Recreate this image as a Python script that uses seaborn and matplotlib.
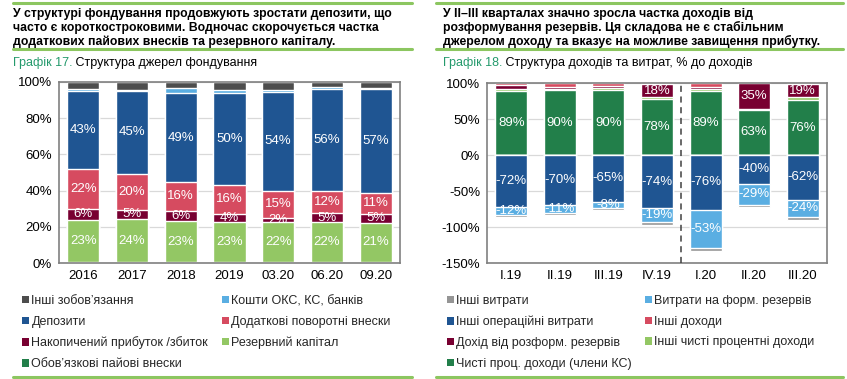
import numpy as np
import matplotlib
matplotlib.use("Agg")
import matplotlib.pyplot as plt
from matplotlib.patches import Patch
from matplotlib.lines import Line2D
import seaborn as sns

# ---------------- Графік 17: структура джерел фондування (%) ----------------
periods_17 = ["2016", "2017", "2018", "2019", "03.20", "06.20", "09.20"]
mandatory_shares = [0.5, 0.3, 0.3, 0.3, 0.5, 0.3, 0.8]
reserve_capital = [23.4, 23.9, 23.0, 22.6, 22.3, 22.1, 21.4]
retained_profit = [5.9, 5.2, 5.6, 4.3, 2.0, 5.0, 5.0]
additional_contrib = [22.2, 20.0, 15.7, 16.1, 15.2, 12.4, 11.4]
deposits = [43.2, 45.4, 49.4, 50.4, 54.4, 56.4, 57.4]
cu_bank_funds = [0.8, 1.0, 2.5, 1.8, 1.4, 0.8, 0.8]
other_liab = [4.0, 4.2, 3.5, 4.5, 4.2, 3.0, 3.2]

# ---------------- Графік 18: структура доходів та витрат, % до доходів ----------------
periods_18 = ["I.19", "II.19", "III.19", "IV.19", "I.20", "II.20", "III.20"]
net_interest = [89, 90, 90, 78, 89, 63, 76]
other_interest = [2, 1.5, 2.5, 2, 3, 1.5, 4]
reserve_release = [6, 3, 3.5, 18, 3, 35, 19]
other_income = [3, 5.5, 4, 2, 5, 0.5, 1]
other_opex = [-72, -70, -65, -74, -76, -40, -62]
provisions = [-12, -11, -8, -19, -53, -29, -24]
other_exp = [-2, -2, -3.5, -4, -4, -3, -4.5]

C_GREY_D = "#4d4d4d"
C_GREY = "#959595"
C_LBLUE = "#5aaee2"
C_DBLUE = "#1f5592"
C_PINK = "#d64b60"
C_MAROON = "#780031"
C_LGREEN = "#93c764"
C_DGREEN = "#227f4a"
C_LINE = "#8cc660"
C_TEAL = "#249a6c"

sns.set_theme(style="white")
plt.rcParams["font.family"] = ["Liberation Sans", "DejaVu Sans"]

W, H = 847, 379
fig = plt.figure(figsize=(W / 100, H / 100), dpi=100)


def fx(x):
    return x / W


def fy(y):
    return 1 - y / H


def stack_layers(ax, cats, layers, colors):
    # draw cumulative totals, biggest first, so every segment shows on top of the previous
    cum = np.cumsum(np.array(layers, dtype=float), axis=0)
    for i in range(len(layers) - 1, -1, -1):
        sns.barplot(x=cats, y=cum[i], color=colors[i], saturation=1, width=0.66,
                    errorbar=None, ax=ax, order=cats, zorder=2)
    return cum


def style_axes(ax, ylim, yticks):
    ax.set_ylim(*ylim)
    ax.set_xlim(-0.5, 6.5)
    ax.set_yticks(yticks)
    ax.set_yticklabels([f"{t}%" for t in yticks], fontsize=9.5, color="black")
    ax.yaxis.grid(True, color="#d9d9d9", lw=0.9)
    ax.set_axisbelow(True)
    for s in ax.spines.values():
        s.set_visible(True)
        s.set_color("#808080")
        s.set_linewidth(1.2)
    ax.tick_params(axis="y", length=3, direction="out", color="#808080", pad=2)
    ax.tick_params(axis="x", which="major", length=0, labelsize=9.5, labelcolor="black", pad=5)
    ax.set_xticks(np.arange(0.5, 6, 1), minor=True)
    ax.tick_params(axis="x", which="minor", length=3, direction="in", color="#808080")
    ax.set_xlabel("")
    ax.set_ylabel("")


def seg_labels(ax, cum, layers, idxs, min_val=0.0):
    cum = np.asarray(cum)
    for i in idxs:
        vals = np.asarray(layers[i], dtype=float)
        base = cum[i] - vals
        for j, v in enumerate(vals):
            if abs(v) < min_val:
                continue
            ax.text(j, base[j] + v / 2, f"{int(round(v))}%", ha="center", va="center",
                    color="white", fontsize=9.5, zorder=5)


# ---- left chart
ax1 = fig.add_axes([fx(59), fy(263), fx(400 - 59), (263 - 82) / H])
layers17 = [mandatory_shares, reserve_capital, retained_profit, additional_contrib,
            deposits, cu_bank_funds, other_liab]
colors17 = [C_DGREEN, C_LGREEN, C_MAROON, C_PINK, C_DBLUE, C_LBLUE, C_GREY_D]
cum17 = stack_layers(ax1, periods_17, layers17, colors17)
style_axes(ax1, (0, 100), [0, 20, 40, 60, 80, 100])
seg_labels(ax1, cum17, layers17, [1, 2, 3, 4])

# ---- right chart
ax2 = fig.add_axes([fx(487), fy(263), fx(827 - 487), (263 - 83) / H])
pos_layers = [net_interest, other_interest, reserve_release, other_income]
pos_colors = [C_DGREEN, C_LGREEN, C_MAROON, C_PINK]
neg_layers = [other_opex, provisions, other_exp]
neg_colors = [C_DBLUE, C_LBLUE, C_GREY]
cum_pos = stack_layers(ax2, periods_18, pos_layers, pos_colors)
cum_neg = stack_layers(ax2, periods_18, neg_layers, neg_colors)
style_axes(ax2, (-150, 100), [-150, -100, -50, 0, 50, 100])
seg_labels(ax2, cum_pos, pos_layers, [0])
seg_labels(ax2, cum_pos, pos_layers, [2], min_val=10)
seg_labels(ax2, cum_neg, neg_layers, [0, 1])
ax2.axvline(3.5, color="#404040", lw=1.1, ls=(0, (4, 3)), zorder=4)

# ---- headers
titles = [
    (13, ["У структурі фондування продовжують зростати депозити, що",
          "часто є короткостроковими. Водночас скорочується частка",
          "додаткових пайових внесків та резервного капіталу."],
     "Графік 17.", " Структура джерел фондування"),
    (443, ["У ІІ–ІІІ кварталах значно зросла частка доходів від",
           "розформування резервів. Ця складова не є стабільним",
           "джерелом доходу та вказує на можливе завищення прибутку."],
     "Графік 18.", " Структура доходів та витрат, % до доходів"),
]
for x0, lines, tag, sub in titles:
    for k, line in enumerate(lines):
        fig.text(fx(x0), fy(17 + 14 * k), line, fontsize=8.8, fontweight="bold",
                 color="black", va="baseline", ha="left")
    t = fig.text(fx(x0), fy(66), tag, fontsize=9, color=C_TEAL, va="baseline", ha="left")
    fig.canvas.draw()
    bb = t.get_window_extent()
    fig.text(bb.x1 / W, fy(66), sub, fontsize=9, color="black", va="baseline", ha="left")

for (xa, xb) in [(13, 412), (436, 843)]:
    for yy in (2.5, 49, 377):
        fig.add_artist(Line2D([fx(xa), fx(xb)], [fy(yy), fy(yy)], color=C_LINE, lw=2.2))

# ---- legends (one per column)
def col_legend(labels, colors, x, y):
    handles = [Patch(facecolor=c, edgecolor="none") for c in colors]
    lg = fig.legend(handles, labels, loc="upper left", bbox_to_anchor=(fx(x), fy(y)),
                    frameon=False, fontsize=9, handlelength=0.55, handleheight=0.55,
                    handletextpad=0.2, labelspacing=0.7, borderpad=0, borderaxespad=0)
    return lg


col_legend(["Інші зобов’язання", "Депозити", "Накопичений прибуток /збиток",
            "Обов’язкові пайові внески"],
           [C_GREY_D, C_DBLUE, C_MAROON, C_DGREEN], 22, 295)
col_legend(["Кошти ОКС, КС, банків", "Додаткові поворотні внески", "Резервний капітал"],
           [C_LBLUE, C_PINK, C_LGREEN], 222, 295)
col_legend(["Інші витрати", "Інші операційні витрати", "Дохід від розформ. резервів",
            "Чисті проц. доходи (члени КС)"],
           [C_GREY, C_DBLUE, C_MAROON, C_DGREEN], 447, 295)
col_legend(["Витрати на форм. резервів", "Інші доходи", "Інші чисті процентні доходи"],
           [C_LBLUE, C_PINK, C_LGREEN], 645, 295)

fig.savefig("out.png", dpi=100)
